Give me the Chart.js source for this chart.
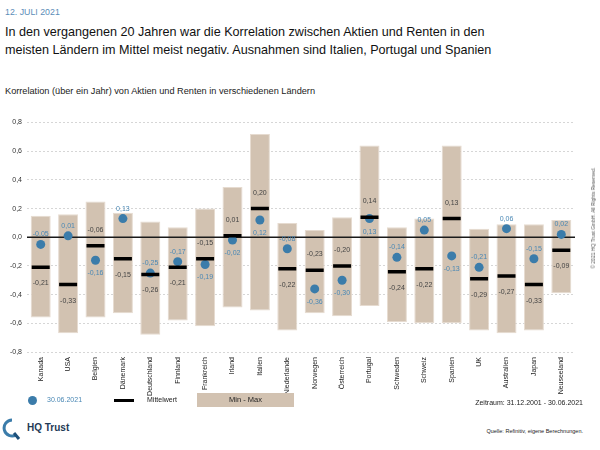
<!DOCTYPE html>
<html>
<head>
<meta charset="utf-8">
<script src="https://cdn.jsdelivr.net/npm/chart.js@4"></script>
<style>
  body { margin: 0; width: 600px; height: 450px; position: relative; font-family: "Liberation Sans", Arial, sans-serif; background: #fff; overflow: hidden; }
  .abs { position: absolute; white-space: nowrap; }
  #date { left: 5px; top: 7px; font-size: 8.8px; color: #5b8db8; }
  #title { left: 5px; top: 23px; font-size: 12.6px; line-height: 18px; color: #111; }
  #sub { left: 5px; top: 86px; font-size: 9.2px; color: #222; }
  #chartWrap { position: absolute; left: 0; top: 110px; width: 600px; height: 290px; }
  .leg { font-size: 7px; top: 396px; }
  #copy { font-size: 5px; color: #555; left: 593px; top: 218px; transform: translate(-50%, -50%) rotate(-90deg); }
</style>
</head>
<body>
<div id="date" class="abs">12. JULI 2021</div>
<div id="title" class="abs">In den vergangenen 20 Jahren war die Korrelation zwischen Aktien und Renten in den<br>meisten Ländern im Mittel meist negativ. Ausnahmen sind Italien, Portugal und Spanien</div>
<div id="sub" class="abs">Korrelation (über ein Jahr) von Aktien und Renten in verschiedenen Ländern</div>
<div id="chartWrap"><canvas id="chart" width="600" height="290"></canvas></div>

<div class="abs" style="left:28px;top:396px;width:9px;height:9px;border-radius:50%;background:#3b7caa"></div>
<div class="abs leg" style="left:47px;color:#4a88b5">30.06.2021</div>
<div class="abs" style="left:114px;top:399px;width:20px;height:3px;background:#000"></div>
<div class="abs leg" style="left:147px;color:#222">Mittelwert</div>
<div class="abs" style="left:197px;top:393px;width:97px;height:14px;background:#d2c2b1;font-size:7.5px;line-height:14px;text-align:center;color:#222">Min - Max</div>
<div class="abs" style="right:17px;top:399px;font-size:7px;color:#222">Zeitraum: 31.12.2001 - 30.06.2021</div>

<svg class="abs" style="left:2px;top:418px" width="20" height="22" viewBox="0 0 20 22">
  <path d="M10 2 A8 8 0 1 0 14 17" fill="none" stroke="#3b7caa" stroke-width="3"/>
  <path d="M12 15 L17 21" stroke="#1d4f7a" stroke-width="3"/>
</svg>
<div class="abs" style="left:27px;top:422px;font-size:10px;font-weight:bold;color:#1f3a56">HQ Trust</div>
<div class="abs" style="right:17px;top:428px;font-size:5.5px;color:#222">Quelle: Refinitiv, eigene Berechnungen.</div>
<div id="copy" class="abs">© 2021 HQ Trust GmbH. All Rights Reserved.</div>

<script>
const countries = ['Kanada', 'USA', 'Belgien', 'Dänemark', 'Deutschland', 'Finnland', 'Frankreich', 'Irland', 'Italien', 'Niederlande',
  'Norwegen', 'Österreich', 'Portugal', 'Schweden', 'Schweiz', 'Spanien', 'UK', 'Australien', 'Japan', 'Neuseeland'];
const minValues = [-0.56, -0.67, -0.56, -0.53, -0.68, -0.58, -0.62, -0.49, -0.51, -0.65, -0.53, -0.55, -0.48, -0.59, -0.60, -0.60, -0.65, -0.67, -0.65, -0.39];
const maxValues = [0.15, 0.16, 0.25, 0.17, 0.11, 0.07, 0.20, 0.35, 0.72, 0.10, 0.05, 0.14, 0.64, 0.07, 0.13, 0.64, 0.06, 0.09, 0.09, 0.12];
const meanValues = [-0.21, -0.33, -0.06, -0.15, -0.26, -0.21, -0.15, 0.01, 0.20, -0.22, -0.23, -0.20, 0.14, -0.24, -0.22, 0.13, -0.29, -0.27, -0.33, -0.09];
const currentValues = [-0.05, 0.01, -0.16, 0.13, -0.25, -0.17, -0.19, -0.02, 0.12, -0.08, -0.36, -0.30, 0.13, -0.14, 0.05, -0.13, -0.21, 0.06, -0.15, 0.02];
const yTicks = [-0.8, -0.6, -0.4, -0.2, 0, 0.2, 0.4, 0.6, 0.8];

const FONT = '"Liberation Sans", Arial, sans-serif';
const fmt = (v, d) => v.toFixed(d).replace('.', ',').replace(/^-0,0+$/, m => m.slice(1));

// zero line on top of the bars
const zeroLine = {
  id: 'zeroLine',
  afterDatasetDraw(chart, args) {
    if (args.index !== 0) return;
    const { ctx, chartArea, scales } = chart;
    const y = scales.y.getPixelForValue(0);
    ctx.save();
    ctx.strokeStyle = '#1a1a1a';
    ctx.lineWidth = 1.5;
    ctx.beginPath();
    ctx.moveTo(chartArea.left, y);
    ctx.lineTo(chartArea.right, y);
    ctx.stroke();
    ctx.restore();
  }
};

// value labels + rotated country names
const valueLabels = {
  id: 'valueLabels',
  afterDatasetsDraw(chart) {
    const { ctx, scales, chartArea } = chart;
    ctx.save();
    ctx.font = '7px ' + FONT;
    ctx.textAlign = 'center';
    ctx.textBaseline = 'middle';
    countries.forEach((c, i) => {
      const x = scales.x.getPixelForValue(i);
      const yc = scales.y.getPixelForValue(currentValues[i]);
      const ym = scales.y.getPixelForValue(meanValues[i]);
      const curAbove = currentValues[i] >= meanValues[i];
      ctx.fillStyle = '#4a88b5';
      ctx.fillText(fmt(currentValues[i], 2), x, curAbove ? yc - 10 : yc + 13);
      ctx.fillStyle = '#444';
      ctx.fillText(fmt(meanValues[i], 2), x, curAbove ? ym + 16 : ym - 16);
    });
    ctx.fillStyle = '#222';
    ctx.textAlign = 'right';
    countries.forEach((c, i) => {
      const x = scales.x.getPixelForValue(i);
      ctx.save();
      ctx.translate(x, chartArea.bottom + 5);
      ctx.rotate(-Math.PI / 2);
      ctx.fillText(c, 0, 0);
      ctx.restore();
    });
    ctx.restore();
  }
};

new Chart(document.getElementById('chart'), {
  data: {
    labels: countries,
    datasets: [
      {
        type: 'bar',
        label: 'Min - Max',
        data: minValues.map((v, i) => [v, maxValues[i]]),
        backgroundColor: '#d2c2b1',
        borderColor: '#e6dbd0',
        borderWidth: 1,
        borderSkipped: false,
        barPercentage: 0.73,
        categoryPercentage: 1,
        order: 3
      },
      {
        type: 'line',
        label: '30.06.2021',
        data: currentValues,
        showLine: false,
        pointStyle: 'circle',
        pointRadius: 4.5,
        pointBackgroundColor: '#3b7caa',
        pointBorderWidth: 0,
        order: 2
      },
      {
        type: 'line',
        label: 'Mittelwert',
        data: meanValues,
        showLine: false,
        pointStyle: 'line',
        pointRadius: 9,
        pointBorderColor: '#000',
        pointBorderWidth: 3.5,
        order: 1
      }
    ]
  },
  options: {
    responsive: false,
    animation: false,
    devicePixelRatio: 1,
    layout: { padding: { top: 11, right: 25, left: 0, bottom: 0 } },
    plugins: { legend: { display: false }, tooltip: { enabled: false } },
    scales: {
      x: {
        grid: { display: false },
        border: { display: false },
        ticks: { display: false },
        afterFit(scale) { scale.height = 48; }
      },
      y: {
        min: -0.8, max: 0.8,
        afterBuildTicks(scale) { scale.ticks = yTicks.map(v => ({ value: v })); },
        grid: { color: '#d6d6d6', lineWidth: 1, drawTicks: false },
        border: { display: false, dash: [2, 2] },
        ticks: {
          padding: 5,
          font: { size: 7, family: FONT }, color: '#333',
          callback: v => fmt(v, 1)
        },
        afterFit(scale) { scale.width = 27; }
      }
    }
  },
  plugins: [zeroLine, valueLabels]
});
</script>
</body>
</html>
